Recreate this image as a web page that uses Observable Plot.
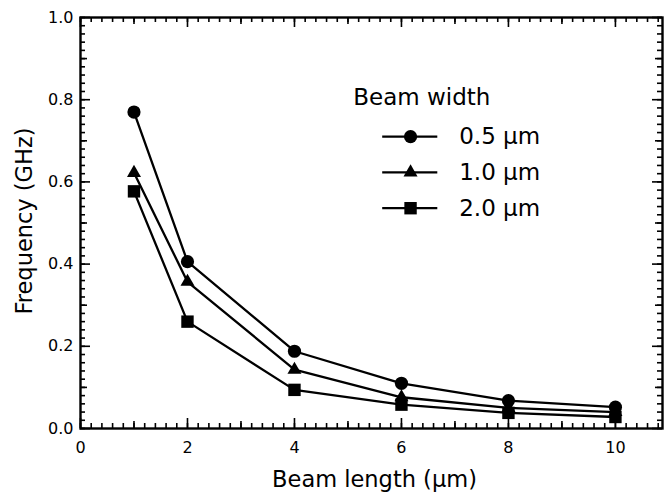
<!DOCTYPE html>
<html><head><meta charset="utf-8">
<script src="https://cdn.jsdelivr.net/npm/d3@7"></script>
<script src="https://cdn.jsdelivr.net/npm/@observablehq/plot@0.6"></script>
<style>
body{margin:0;background:#fff}
#chart svg{display:block}
</style>
</head><body><div id="chart"></div>
<script>
// ---- data ----
const beamLength = [1, 2, 4, 6, 8, 10];
const freq05 = [0.770, 0.406, 0.188, 0.110, 0.068, 0.052];
const freq10 = [0.622, 0.357, 0.143, 0.076, 0.050, 0.040];
const freq20 = [0.577, 0.260, 0.094, 0.058, 0.038, 0.028];
const seriesNames = ["0.5 μm", "1.0 μm", "2.0 μm"];
const seriesSymbols = ["circle", "triangle", "square"];
const xTickValues = [0, 2, 4, 6, 8, 10];
const yTickValues = [0, 0.2, 0.4, 0.6, 0.8, 1.0];
const xLabel = "Beam length (μm)";
const yLabel = "Frequency (GHz)";
const legendTitle = "Beam width";

// ---- build table ----
const seriesValues = [freq05, freq10, freq20];
const rows = [];
seriesNames.forEach((name, i) => {
  beamLength.forEach((L, j) => rows.push({series: name, length: L, freq: seriesValues[i][j]}));
});
const symbolRadius = {"circle": 6.6, "triangle": 5.2, "square": 7.0};

// ---- layout ----
const W = 665, H = 496, mL = 80, mR = 3, mT = 17, mB = 68;
const fw = W - mL - mR, fh = H - mT - mB;

// ---- tick positions ----
const xMinor = d3.range(0, 109, 2).map(d => d / 10);
const xMedium = d3.range(1, 11, 2);
const yMinor = d3.range(0, 101, 2).map(d => d / 100);
const yMedium = d3.range(1, 11, 2).map(d => d / 10);

// legend layout (in data coordinates)
const legX1 = 5.64, legX2 = 6.67, legXm = 6.17, legXt = 7.08;
const legYs = [0.710, 0.623, 0.536];
const legTitleY = 0.806, legTitleX = 5.10;

const font = "'DejaVu Sans', Verdana, sans-serif";
const tickW = 1.6;

const tickMarks = [];
for (const [vals, len] of [[xMinor, 5], [xMedium, 7], [xTickValues, 10]]) {
  tickMarks.push(Plot.tickX(vals, {x: d => d, insetTop: fh - len, stroke: "black", strokeWidth: tickW}));
  tickMarks.push(Plot.tickX(vals, {x: d => d, insetBottom: fh - len, stroke: "black", strokeWidth: tickW}));
}
for (const [vals, len] of [[yMinor, 5], [yMedium, 7], [yTickValues, 10]]) {
  tickMarks.push(Plot.tickY(vals, {y: d => d, insetRight: fw - len, stroke: "black", strokeWidth: tickW}));
  tickMarks.push(Plot.tickY(vals, {y: d => d, insetLeft: fw - len, stroke: "black", strokeWidth: tickW}));
}

const legendRows = seriesNames.map((name, i) => ({name, symbol: seriesSymbols[i], y: legYs[i]}));

const marks = [
  ...tickMarks,
  // tick labels
  Plot.text(xTickValues, {x: d => d, text: d => String(d), frameAnchor: "bottom", lineAnchor: "middle", textAnchor: "middle", dy: 19, fontSize: 16, fill: "black", fontFamily: font}),
  Plot.text(yTickValues, {y: d => d, text: d => d3.format(".1f")(d), frameAnchor: "left", lineAnchor: "middle", textAnchor: "end", dx: -7, fontSize: 16, fill: "black", fontFamily: font}),
  // axis titles
  Plot.text([xLabel], {frameAnchor: "bottom", lineAnchor: "middle", textAnchor: "middle", dy: 51.5, dx: 3, fontSize: 22.5, fill: "black", fontFamily: font}),
  Plot.text([yLabel], {frameAnchor: "left", lineAnchor: "middle", textAnchor: "middle", dx: -56, dy: -2, rotate: -90, fontSize: 22.5, fill: "black", fontFamily: font}),
  // data
  Plot.line(rows, {x: "length", y: "freq", z: "series", stroke: "black", strokeWidth: 2.3}),
  ...seriesNames.map((name, i) =>
    Plot.dot(rows.filter(r => r.series === name), {x: "length", y: "freq", symbol: () => seriesSymbols[i], r: symbolRadius[seriesSymbols[i]], fill: "black", stroke: "none"})
  ),
  // legend
  Plot.text([legendTitle], {x: () => legTitleX, y: () => legTitleY, textAnchor: "start", fontSize: 23, fill: "black", fontFamily: font}),
  Plot.link(legendRows, {x1: () => legX1, x2: () => legX2, y1: "y", y2: "y", stroke: "black", strokeWidth: 2.3}),
  ...legendRows.map(r =>
    Plot.dot([r], {x: () => legXm, y: "y", symbol: () => r.symbol, r: symbolRadius[r.symbol], fill: "black", stroke: "none"})
  ),
  Plot.text(legendRows, {x: () => legXt, y: "y", text: "name", textAnchor: "start", fontSize: 23, fill: "black", fontFamily: font}),
  Plot.frame({stroke: "black", strokeWidth: 2.4})
];

const chart = Plot.plot({
  width: W,
  height: H,
  marginLeft: mL,
  marginRight: mR,
  marginTop: mT,
  marginBottom: mB,
  x: {domain: [0, 10.88], axis: null},
  y: {domain: [0, 1], axis: null},
  symbol: {type: "identity"},
  style: {fontFamily: font, fontSize: "16px", color: "black", background: "white"},
  marks
});
document.getElementById("chart").appendChild(chart);
</script>
</body></html>
